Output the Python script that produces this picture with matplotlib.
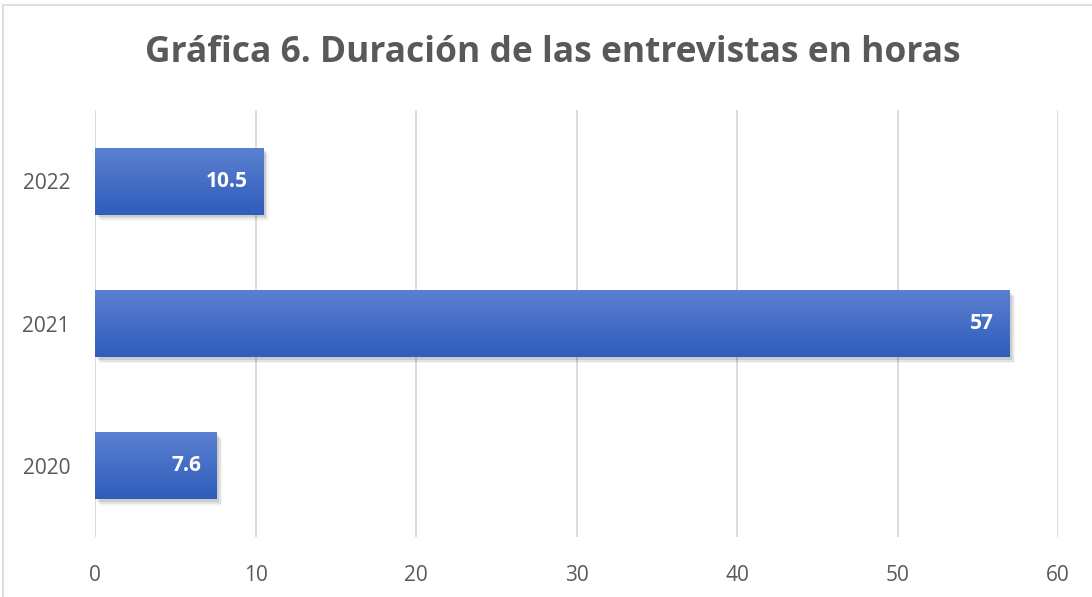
import matplotlib
matplotlib.use("Agg")
import matplotlib.pyplot as plt
import numpy as np
from matplotlib.patches import Rectangle
from matplotlib.colors import LinearSegmentedColormap

categories = ["2020", "2021", "2022"]
values = [7.6, 57, 10.5]
value_labels = ["7.6", "57", "10.5"]
xticks = [0, 10, 20, 30, 40, 50, 60]
title = "Gráfica 6. Duración de las entrevistas en horas"

W, H = 1092, 597
fig = plt.figure(figsize=(W / 100, H / 100), dpi=100)
fig.patch.set_facecolor("white")

# outer chart border
fig.add_artist(Rectangle((3 / W, -0.01), 1.5, 1 - 5 / H + 0.01, transform=fig.transFigure,
                         fill=False, edgecolor="#d9d9d9", linewidth=1.2))

ax = fig.add_axes([95 / W, 1 - 537 / H, (1058 - 95) / W, (537 - 110) / H])
ax.set_xlim(0, 60)
ax.set_ylim(-0.5, 2.5)
for s in ax.spines.values():
    s.set_visible(False)
ax.set_xticks(xticks)
ax.set_xticklabels([str(t) for t in xticks])
ax.set_yticks(range(len(categories)))
ax.set_yticklabels(categories)
ax.tick_params(axis="both", length=0, labelsize=15, labelcolor="#595959")
ax.tick_params(axis="x", pad=20)
ax.tick_params(axis="y", pad=18)
for lbl in ax.get_xticklabels() + ax.get_yticklabels():
    lbl.set_fontfamily("Open Sans")
ax.grid(axis="x", color="#d9d9d9", linewidth=1.3)
ax.set_axisbelow(True)

cmap = LinearSegmentedColormap.from_list("g", ["#5b80d0", "#2e5dbb"])
grad = np.linspace(0, 1, 256).reshape(-1, 1)
bh = 0.47
bars = ax.barh(range(len(categories)), values, height=bh, color="none", edgecolor="none")
for i, (b, v, lab) in enumerate(zip(bars, values, value_labels)):
    x0, y0 = b.get_x(), b.get_y()
    w, h = b.get_width(), b.get_height()
    # shadow
    for k, a in enumerate([0.10, 0.07, 0.04]):
        ax.add_patch(Rectangle((x0 + 0.15 + k * 0.08, y0 - 0.02 - k * 0.012), w, h,
                               facecolor="black", alpha=a, edgecolor="none", zorder=2))
    im = ax.imshow(grad, extent=(x0, x0 + w, y0, y0 + h), cmap=cmap, aspect="auto",
                   zorder=3, interpolation="bicubic")
    ax.text(x0 + w - 1.0, i, lab, ha="right", va="center", color="white",
            fontsize=15, fontweight="bold", fontfamily="Open Sans", zorder=4)
ax.set_xlim(0, 60)
ax.set_ylim(-0.5, 2.5)

fig.text(553 / W, 1 - 53 / H, title, ha="center", va="center", fontsize=25.5,
         fontweight="bold", color="#595959", fontfamily="Open Sans")

fig.savefig("out.png", dpi=100)
